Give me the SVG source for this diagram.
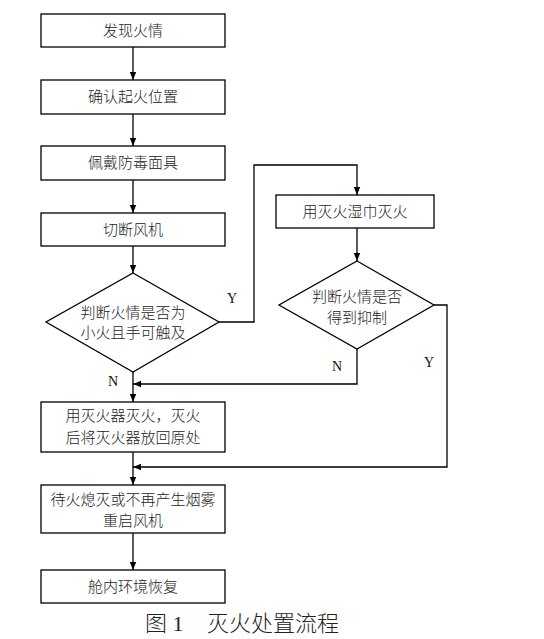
<svg xmlns="http://www.w3.org/2000/svg" width="544" height="639" viewBox="0 0 544 639">
<style>
.box{fill:#fff;stroke:#000;stroke-width:1.3}
.ln{fill:none;stroke:#000;stroke-width:1.3}
.t{font-family:"Liberation Serif","Noto Sans CJK SC",serif;font-size:15px;font-weight:300;text-anchor:middle;fill:#222}
.lbl{font-family:"Liberation Serif",serif;font-size:14px;text-anchor:middle;fill:#111}
.cap{font-family:"Liberation Serif","Noto Sans CJK SC",serif;font-size:22px;font-weight:300;fill:#222}
</style>
<defs>
<marker id="ar" viewBox="0 0 8 8" refX="8" refY="4" markerWidth="8" markerHeight="8" markerUnits="userSpaceOnUse" orient="auto">
<path d="M0,0.8 L8,4 L0,7.2 Z" fill="#000"/>
</marker>
</defs>
<rect width="544" height="639" fill="#fff"/>
<g id="connectors">
<line class="ln" x1="133" y1="47" x2="133" y2="80" marker-end="url(#ar)"/>
<line class="ln" x1="133" y1="114" x2="133" y2="146" marker-end="url(#ar)"/>
<line class="ln" x1="133" y1="180" x2="133" y2="213" marker-end="url(#ar)"/>
<line class="ln" x1="133" y1="246" x2="133" y2="273" marker-end="url(#ar)"/>
<line class="ln" x1="133" y1="372" x2="133" y2="402" marker-end="url(#ar)"/>
<polyline class="ln" points="219,322 254,322 254,165 357,165 357,195" marker-end="url(#ar)"/>
<line class="ln" x1="357" y1="228" x2="357" y2="261" marker-end="url(#ar)"/>
<polyline class="ln" points="357,349 357,384 133,384" marker-end="url(#ar)"/>
<polyline class="ln" points="434,305 447,305 447,467 133,467" marker-end="url(#ar)"/>
<line class="ln" x1="133" y1="452" x2="133" y2="485" marker-end="url(#ar)"/>
<line class="ln" x1="133" y1="533" x2="133" y2="570" marker-end="url(#ar)"/>
<text class="lbl" x="232" y="303">Y</text>
<text class="lbl" x="113" y="386">N</text>
<text class="lbl" x="337" y="371">N</text>
<text class="lbl" x="429" y="367">Y</text>
</g>
<g id="n1"><rect class="box" x="41" y="14" width="184" height="33"/><text class="t" x="133" y="36">发现火情</text></g>
<g id="n2"><rect class="box" x="41" y="80" width="184" height="34"/><text class="t" x="133" y="102">确认起火位置</text></g>
<g id="n3"><rect class="box" x="41" y="146" width="184" height="34"/><text class="t" x="133" y="168">佩戴防毒面具</text></g>
<g id="n4"><rect class="box" x="41" y="213" width="184" height="33"/><text class="t" x="133" y="235">切断风机</text></g>
<g id="n5"><polygon class="box" points="133,273 219,322 133,372 46,322"/><text class="t" x="133" y="318">判断火情是否为</text><text class="t" x="133" y="338">小火且手可触及</text></g>
<g id="n6"><rect class="box" x="276" y="195" width="158" height="33"/><text class="t" x="355" y="217">用灭火湿巾灭火</text></g>
<g id="n7"><polygon class="box" points="357,261 434,305 357,349 279,305"/><text class="t" x="357" y="302">判断火情是否</text><text class="t" x="357" y="323">得到抑制</text></g>
<g id="n8"><rect class="box" x="41" y="402" width="184" height="50"/><text class="t" x="133" y="421">用灭火器灭火，灭火</text><text class="t" x="133" y="443">后将灭火器放回原处</text></g>
<g id="n9"><rect class="box" x="41" y="485" width="184" height="48"/><text class="t" x="133" y="505">待火熄灭或不再产生烟雾</text><text class="t" x="133" y="526">重启风机</text></g>
<g id="n10"><rect class="box" x="41" y="570" width="184" height="33"/><text class="t" x="133" y="592">舱内环境恢复</text></g>
<text class="cap" x="145" y="631">图 1</text>
<text class="cap" x="207" y="631">灭火处置流程</text>
</svg>
